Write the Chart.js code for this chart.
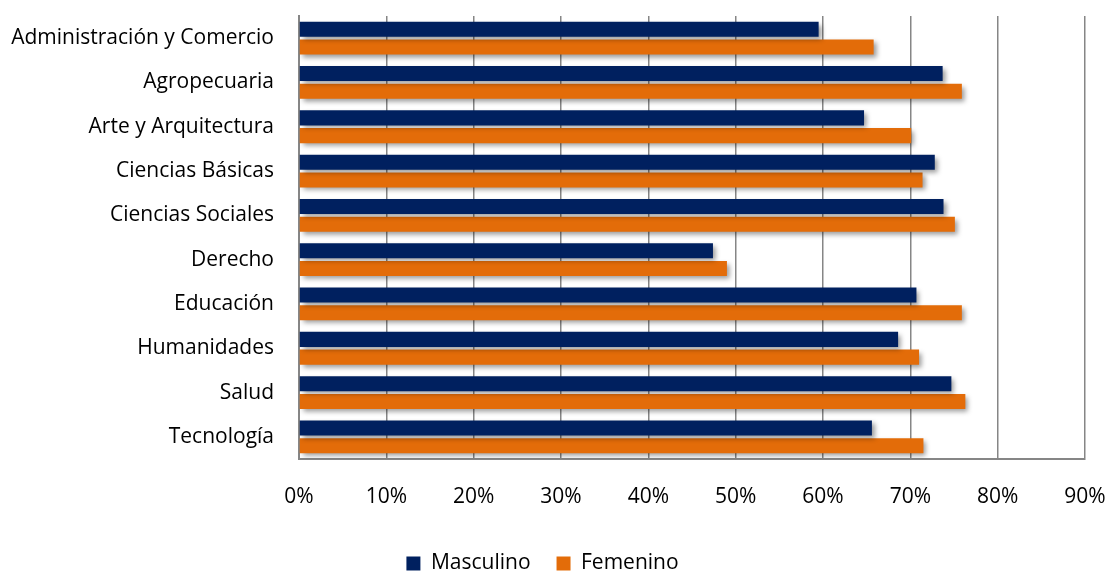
<!DOCTYPE html>
<html><head><meta charset="utf-8">
<script src="https://cdn.jsdelivr.net/npm/chart.js@4"></script>
<style>html,body{margin:0;padding:0;background:#fff}#wrap{width:1107px;height:571px}</style>
</head><body><div id="wrap"><canvas id="c" width="1107" height="571"></canvas></div>
<script>
const categories = ["Administración y Comercio","Agropecuaria","Arte y Arquitectura","Ciencias Básicas","Ciencias Sociales","Derecho","Educación","Humanidades","Salud","Tecnología"];
const masculino = [59.5,73.7,64.7,72.8,73.8,47.4,70.7,68.6,74.7,65.6];
const femenino  = [65.8,75.9,70.1,71.4,75.1,49.0,75.9,71.0,76.3,71.5];
const xTicks = [0,10,20,30,40,50,60,70,80,90];

const shadowPlugin = {
  id:'shadow',
  beforeDatasetsDraw(chart){const c=chart.ctx;c.save();c.shadowColor='rgba(0,0,0,0.4)';c.shadowBlur=5;c.shadowOffsetX=3;c.shadowOffsetY=3;},
  afterDatasetsDraw(chart){chart.ctx.restore();}
};
const FONT = "'Open Sans', sans-serif";
new Chart(document.getElementById('c'),{
  type:'bar',
  data:{labels:categories,datasets:[
    {label:'Masculino',data:masculino,backgroundColor:'#00205F',barPercentage:0.85,categoryPercentage:0.8},
    {label:'Femenino',data:femenino,backgroundColor:'#E36C09',barPercentage:0.85,categoryPercentage:0.8}
  ]},
  plugins:[shadowPlugin],
  options:{
    indexAxis:'y',responsive:false,animation:false,
    layout:{padding:{top:16,right:22,left:0,bottom:-13}},
    plugins:{
      tooltip:{enabled:false},
      legend:{position:'bottom',labels:{boxWidth:14,boxHeight:14,padding:26,color:'#000',font:{family:FONT,size:21}}}
    },
    scales:{
      x:{min:0,max:90,
        afterBuildTicks(s){s.ticks=xTicks.map(v=>({value:v}));},
        afterFit(s){s.height=68;s.paddingLeft=0;s.paddingRight=0;},
        grid:{color:'#868686',lineWidth:1.5,drawTicks:false},
        border:{color:'#868686',width:2},
        ticks:{padding:25,color:'#000',font:{family:FONT,size:21},callback:v=>v+'%'}},
      y:{
        afterFit(s){s.width=299;s.paddingTop=0;s.paddingBottom=0;},
        grid:{display:false,drawTicks:false},
        border:{color:'#868686',width:2},
        ticks:{padding:25,color:'#000',font:{family:FONT,size:21}}}
    }
  }
});
</script></body></html>
